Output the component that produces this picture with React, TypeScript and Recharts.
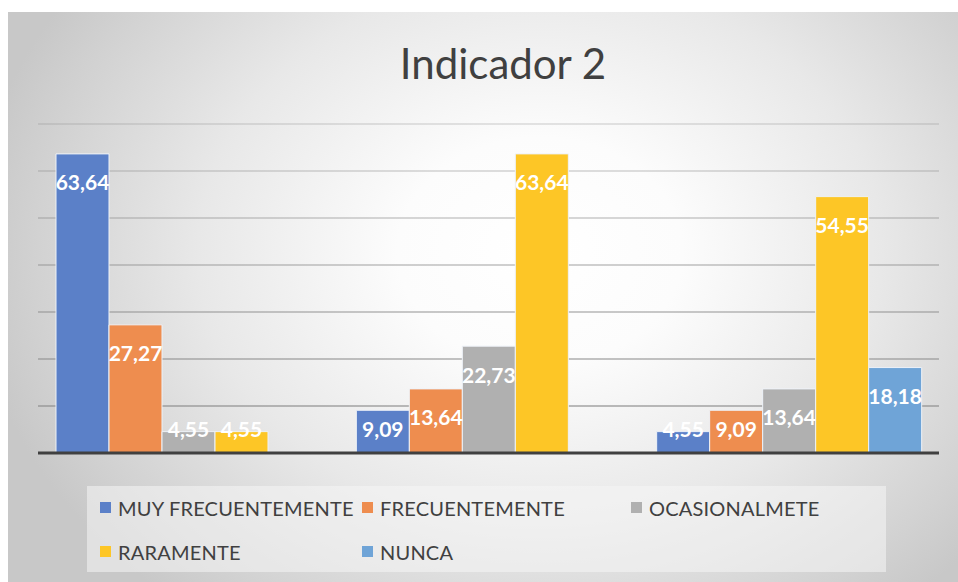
import { BarChart, Bar, XAxis, YAxis, CartesianGrid, LabelList } from 'recharts';

const categories = ['1', '2', '3'];
const seriesNames = ['MUY FRECUENTEMENTE', 'FRECUENTEMENTE', 'OCASIONALMETE', 'RARAMENTE', 'NUNCA'];
const muyFrecuentemente = [63.64, 9.09, 4.55];
const frecuentemente = [27.27, 13.64, 9.09];
const ocasionalmente = [4.55, 22.73, 13.64];
const raramente = [4.55, 63.64, 54.55];
const nunca = [0, 0, 18.18];
const yTicks = [0, 10, 20, 30, 40, 50, 60, 70];

const keys = ['s0', 's1', 's2', 's3', 's4'];
const colors = ['#5b80c8', '#ee8d4f', '#b0b0b0', '#fdc626', '#6fa4d7'];
const values = [muyFrecuentemente, frecuentemente, ocasionalmente, raramente, nunca];

const data = categories.map((c, i) => {
    const row: any = { name: c };
    keys.forEach((k, j) => { row[k] = values[j][i]; });
    return row;
});

// legend layout: two rows, like the Excel legend box
const legendPos = [
    { x: 100, y: 508 },
    { x: 362, y: 508 },
    { x: 631, y: 508 },
    { x: 100, y: 552 },
    { x: 362, y: 552 },
];

const FONT = 'Lato, "Liberation Sans", sans-serif';

// label inside the end of the bar, pushed up when the bar is short
const renderLabel = (props: any) => {
    const { x, y, width, height, value } = props;
    const bottom = y + height;
    const cy = Math.min(y + 28, bottom - 25);
    return (
        <text
            x={x + width / 2}
            y={cy}
            textAnchor="middle"
            dominantBaseline="central"
            fill="#ffffff"
            fontFamily={FONT}
            fontWeight={700}
            fontSize={21}
        >
            {Number(value).toFixed(2).replace('.', ',')}
        </text>
    );
};

// grid lines get darker towards the bottom
const renderGridLine = (props: any) => {
    const { x1, x2, y1, y2, index } = props;
    const t = Math.max(0, Math.min(1, (y1 - 124) / 329));
    return (
        <line
            key={`g-${index}`}
            x1={x1}
            x2={x2}
            y1={y1}
            y2={y2}
            stroke="#8a8a8a"
            strokeOpacity={0.3 + 0.55 * t}
            strokeWidth={1.5}
        />
    );
};

export default function App() {
    return (
        <div style={{ position: 'absolute', left: 0, top: 0, width: 958, height: 582, background: '#ffffff', overflow: 'hidden' }}>
            <div
                style={{
                    position: 'absolute',
                    left: 8,
                    top: 12,
                    width: 950,
                    height: 570,
                    background: 'radial-gradient(ellipse 60% 80% at 56% 42%, #ffffff 0%, #fcfcfc 25%, #e8e8e8 60%, #d2d2d2 88%, #c8c8c8 100%)',
                }}
            />
            <div
                style={{
                    position: 'absolute',
                    left: 0,
                    top: 38,
                    width: 1006,
                    textAlign: 'center',
                    fontFamily: FONT,
                    fontSize: 42,
                    color: '#404040',
                    lineHeight: '50px',
                }}
            >
                Indicador 2
            </div>
            <div
                style={{
                    position: 'absolute',
                    left: 87,
                    top: 486,
                    width: 799,
                    height: 86,
                    background: 'rgba(245,245,245,0.55)',
                }}
            />
            {seriesNames.map((n, i) => (
                <div key={n}>
                    <div
                        style={{
                            position: 'absolute',
                            left: legendPos[i].x,
                            top: legendPos[i].y - 6,
                            width: 11,
                            height: 11,
                            background: colors[i],
                        }}
                    />
                    <div
                        style={{
                            position: 'absolute',
                            left: legendPos[i].x + 18,
                            top: legendPos[i].y - 13,
                            fontFamily: FONT,
                            fontSize: 20,
                            lineHeight: '26px',
                            color: '#404040',
                            whiteSpace: 'nowrap',
                            letterSpacing: 0.2,
                        }}
                    >
                        {n}
                    </div>
                </div>
            ))}
            <div style={{ position: 'absolute', left: 0, top: 0 }}>
                <BarChart
                    width={958}
                    height={582}
                    data={data}
                    margin={{ top: 124, right: 19, left: 38, bottom: 128 }}
                    barCategoryGap={18}
                    barGap={0}
                >
                    <CartesianGrid vertical={false} horizontal={renderGridLine} />
                    <YAxis hide domain={[0, 70]} ticks={yTicks} />
                    <XAxis
                        dataKey="name"
                        tick={false}
                        tickLine={false}
                        height={1}
                        axisLine={{ stroke: '#404040', strokeWidth: 3 }}
                    />
                    {keys.map((k, i) => (
                        <Bar
                            key={k}
                            dataKey={k}
                            name={seriesNames[i]}
                            fill={colors[i]}
                            stroke="#eef2f8"
                            strokeWidth={1}
                            isAnimationActive={false}
                        >
                            <LabelList dataKey={k} content={renderLabel} />
                        </Bar>
                    ))}
                </BarChart>
            </div>
        </div>
    );
}
